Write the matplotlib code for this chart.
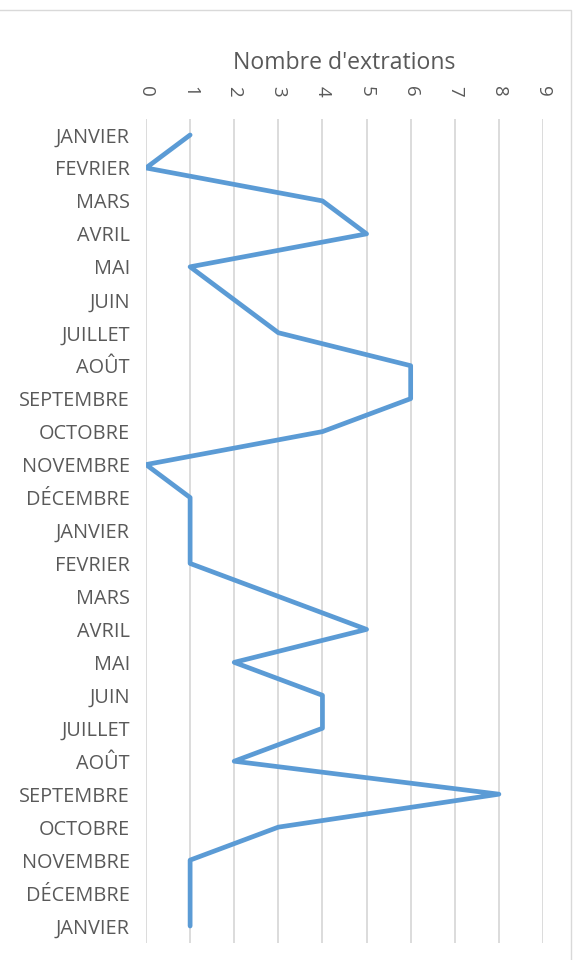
import matplotlib
matplotlib.use("Agg")
import matplotlib.pyplot as plt
from matplotlib.patches import Rectangle

months = ["JANVIER", "FEVRIER", "MARS", "AVRIL", "MAI", "JUIN", "JUILLET", "AOÛT",
          "SEPTEMBRE", "OCTOBRE", "NOVEMBRE", "DÉCEMBRE",
          "JANVIER", "FEVRIER", "MARS", "AVRIL", "MAI", "JUIN", "JUILLET", "AOÛT",
          "SEPTEMBRE", "OCTOBRE", "NOVEMBRE", "DÉCEMBRE", "JANVIER"]
values = [1, 0, 4, 5, 1, 2, 3, 6, 6, 4, 0, 1,
          1, 1, 3, 5, 2, 4, 4, 2, 8, 3, 1, 1, 1]
x_ticks = list(range(0, 10))
title = "Nombre d'extrations"

plt.rcParams['font.family'] = ['Open Sans', 'DejaVu Sans']
text_color = "#595959"
grid_color = "#D9D9D9"
line_color = "#5B9BD5"

fig = plt.figure(figsize=(5.81, 9.6), dpi=100)
ax = fig.add_axes([146 / 581, 1 - 942.5 / 960, (543 - 146) / 581, (942.5 - 118.5) / 960])

pos = list(range(len(months)))
ax.plot(values, pos, color=line_color, linewidth=3.4, solid_capstyle='round',
        solid_joinstyle='round', zorder=3)

ax.set_xlim(0, 9)
ax.set_ylim(len(months) - 0.5, -0.5)
ax.set_xticks(x_ticks)
ax.set_xticklabels([str(v) for v in x_ticks], rotation=-90, color=text_color, fontsize=13.5)
ax.xaxis.tick_top()
ax.set_yticks(pos)
ax.set_yticklabels(months, color=text_color, fontsize=14.3)
ax.tick_params(axis='both', length=0)
ax.tick_params(axis='x', pad=16)
ax.tick_params(axis='y', pad=11.5)
ax.grid(axis='x', color=grid_color, linewidth=1.3)
ax.set_axisbelow(True)
for s in ax.spines.values():
    s.set_visible(False)

fig.text(344 / 581, 1 - 63 / 960, title, ha='center', va='center', fontsize=16.6, color=text_color)

fig.patches.append(Rectangle((-10 / 581, -10 / 960), (571 + 10) / 581, (960 - 10 + 10) / 960,
                             transform=fig.transFigure, fill=False, edgecolor=grid_color,
                             linewidth=1.0))

fig.savefig("out.png", dpi=100)
